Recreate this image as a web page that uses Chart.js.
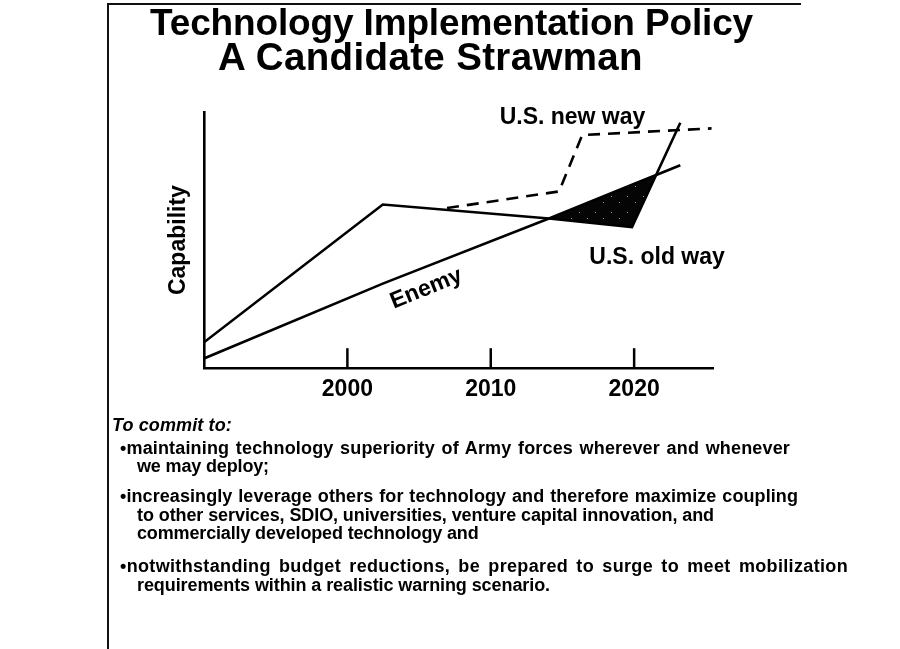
<!DOCTYPE html>
<html>
<head>
<meta charset="utf-8">
<script src="https://cdn.jsdelivr.net/npm/chart.js@4.4.1/dist/chart.umd.min.js"></script>
<style>
html,body{margin:0;padding:0;background:#fff;}
#wrap{position:relative;width:900px;height:649px;overflow:hidden;font-family:"Liberation Sans",Arial,Helvetica,sans-serif;color:#000;}
#c{position:absolute;left:0;top:0;}
.frameTop{position:absolute;left:107px;top:3px;width:694px;height:2px;background:#111;}
.frameLeft{position:absolute;left:107px;top:3px;width:2px;height:646px;background:#111;}
.t{position:absolute;white-space:nowrap;font-weight:bold;}
.title{font-size:37px;line-height:37px;}
.lead{font-size:18px;line-height:20px;font-style:italic;}
.b{font-size:18px;line-height:19px;}
</style>
</head>
<body>
<div id="wrap">
  <canvas id="c" width="900" height="649"></canvas>
  <div class="frameTop"></div>
  <div class="frameLeft"></div>
  <div class="t title" style="top:4px;left:150px;" data-w="602" data-ls="1">Technology Implementation Policy</div>
  <div class="t title" style="top:38px;left:218px;font-size:38.5px;" data-w="425" data-ls="1">A Candidate Strawman</div>
  <div class="t lead" style="top:415px;left:112px;" data-w="120" data-ls="1">To commit to:</div>
  <div class="t b" style="top:439px;left:120px;" data-w="670">•maintaining technology superiority of Army forces wherever and whenever</div>
  <div class="t b" style="top:457px;left:137px;" data-w="121">we may deploy;</div>
  <div class="t b" style="top:487px;left:120px;" data-w="678">•increasingly leverage others for technology and therefore maximize coupling</div>
  <div class="t b" style="top:506px;left:137px;" data-w="577">to other services, SDIO, universities, venture capital innovation, and</div>
  <div class="t b" style="top:524px;left:137px;" data-w="326">commercially developed technology and</div>
  <div class="t b" style="top:557px;left:120px;" data-w="728">•notwithstanding budget reductions, be prepared to surge to meet mobilization</div>
  <div class="t b" style="top:576px;left:137px;" data-w="413">requirements within a realistic warning scenario.</div>
</div>
<script>
// ---- data ----
const years = [1990, 2002.47, 2014.06, 2019.85, 2023.22];
const oldWay = [10.1, 63.9, 58.4, 55.1, 95.8];
const enemy = [3.8, 33.0, 58.4, 71.6, 79.2];
const newWayYears = [2006.95, 2014.76, 2016.38, 2025.4];
const newWay = [62.5, 69.0, 91.0, 93.6];
const tickYears = [2000, 2010, 2020];
const tickLabels = ['2000', '2010', '2020'];
const seriesNames = ['U.S. old way', 'Enemy', 'U.S. new way'];

const FONT = '"Liberation Sans", Arial, Helvetica, sans-serif';

// fit text lines roughly to the widths seen in the reference
document.querySelectorAll('[data-w]').forEach(el => {
  const target = parseFloat(el.dataset.w);
  const w = el.getBoundingClientRect().width;
  const txt = el.textContent;
  const n = txt.length;
  const s = (txt.match(/ /g) || []).length;
  let extra = target - w;
  if (extra <= 0) {
    el.style.letterSpacing = Math.max(extra / n, -0.15).toFixed(3) + 'px';
    return;
  }
  let ws = (s && !el.dataset.ls) ? Math.min(extra * 0.5 / s, 3.5) : 0;
  el.style.wordSpacing = ws.toFixed(3) + 'px';
  el.style.letterSpacing = ((extra - ws * s) / n).toFixed(3) + 'px';
});

function pts(xs, ys) { return xs.map((x, i) => ({ x: x, y: ys[i] })); }

// speckled black fill pattern
function makePattern() {
  const p = document.createElement('canvas');
  p.width = 16; p.height = 16;
  const g = p.getContext('2d');
  g.fillStyle = '#050505';
  g.fillRect(0, 0, 16, 16);
  g.fillStyle = '#9a9a9a';
  g.fillRect(3, 4, 1, 1);
  g.fillRect(11, 10, 1, 1);
  return document.getElementById('c').getContext('2d').createPattern(p, 'repeat');
}

const innerTicks = {
  id: 'innerTicks',
  afterDraw(chart) {
    const ctx = chart.ctx, xs = chart.scales.x, b = chart.chartArea.bottom;
    ctx.save();
    ctx.strokeStyle = '#000';
    ctx.lineWidth = 2.5;
    tickYears.forEach(v => {
      const px = xs.getPixelForValue(v);
      ctx.beginPath();
      ctx.moveTo(px, b);
      ctx.lineTo(px, b - 20);
      ctx.stroke();
    });
    ctx.restore();
  }
};

const seriesLabels = {
  id: 'seriesLabels',
  afterDatasetsDraw(chart) {
    const ctx = chart.ctx, xs = chart.scales.x, ys = chart.scales.y;
    ctx.save();
    ctx.fillStyle = '#000';
    ctx.font = 'bold 23px ' + FONT;
    ctx.textAlign = 'center';
    ctx.textBaseline = 'middle';
    ctx.fillText(seriesNames[2], xs.getPixelForValue(2015.7), ys.getPixelForValue(97.6));
    ctx.fillText(seriesNames[0], xs.getPixelForValue(2021.6), ys.getPixelForValue(43.2));
    ctx.translate(xs.getPixelForValue(2005.5), ys.getPixelForValue(31.0));
    ctx.rotate(-22 * Math.PI / 180);
    ctx.fillText(seriesNames[1], 0, 0);
    ctx.restore();
  }
};

const line = { borderColor: '#000', borderWidth: 2.6, pointRadius: 0, tension: 0 };

new Chart(document.getElementById('c'), {
  type: 'line',
  data: {
    datasets: [
      Object.assign({ label: seriesNames[0], data: pts(years, oldWay), fill: false }, line),
      Object.assign({ label: seriesNames[1], data: pts(years, enemy),
        fill: { target: 0, above: makePattern(), below: 'rgba(0,0,0,0)' } }, line),
      Object.assign({ label: seriesNames[2], data: pts(newWayYears, newWay), fill: false,
        borderDash: [12, 8] }, line)
    ]
  },
  options: {
    responsive: false,
    animation: false,
    devicePixelRatio: 1,
    layout: { padding: { top: 112, right: 187, left: 164.4, bottom: 237.2 } },
    plugins: { legend: { display: false }, tooltip: { enabled: false } },
    scales: {
      x: {
        type: 'linear', min: 1990, max: 2025.5,
        grid: { display: false, drawTicks: false },
        border: { display: true, color: '#000', width: 2.6 },
        afterBuildTicks: s => { s.ticks = tickYears.map(v => ({ value: v })); },
        ticks: {
          color: '#000', padding: 8, autoSkip: false, maxRotation: 0,
          font: { family: FONT, size: 23, weight: 'bold' },
          callback: v => { const i = tickYears.indexOf(v); return i >= 0 ? tickLabels[i] : ''; }
        }
      },
      y: {
        min: 0, max: 100,
        grid: { display: false, drawTicks: false },
        border: { display: true, color: '#000', width: 2.6 },
        ticks: { display: false },
        title: {
          display: true, text: 'Capability', color: '#000',
          font: { family: FONT, size: 23, weight: 'bold' },
          padding: { top: 0, bottom: 12 }
        }
      }
    }
  },
  plugins: [innerTicks, seriesLabels]
});
</script>
</body>
</html>
